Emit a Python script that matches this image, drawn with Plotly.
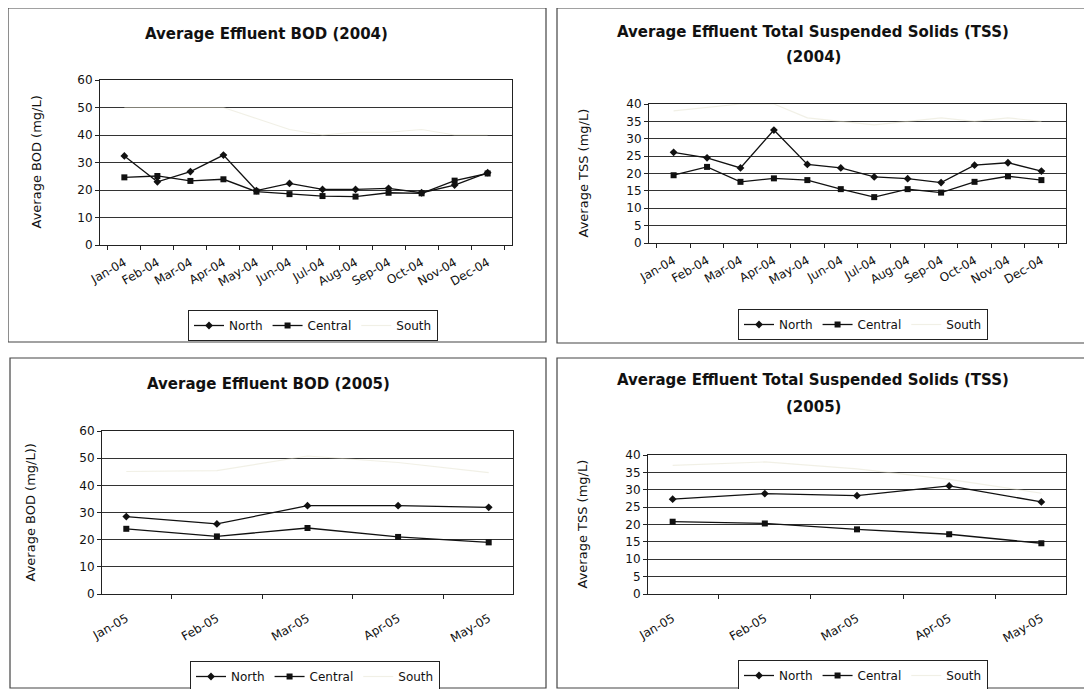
import plotly.graph_objects as go

months_2004 = ["Jan-04", "Feb-04", "Mar-04", "Apr-04", "May-04", "Jun-04",
               "Jul-04", "Aug-04", "Sep-04", "Oct-04", "Nov-04", "Dec-04"]
months_2005 = ["Jan-05", "Feb-05", "Mar-05", "Apr-05", "May-05"]

bod04_north = [32.4, 23.0, 26.7, 32.7, 19.8, 22.4, 20.2, 20.2, 20.6, 19.0, 21.8, 26.3]
bod04_central = [24.6, 25.1, 23.3, 23.9, 19.4, 18.5, 17.8, 17.6, 19.0, 18.8, 23.4, 26.0]
bod04_south = [50, 50, 50, 50, 46, 42, 40, 41, 41, 42, 40, 40]

tss04_north = [26.1, 24.5, 21.6, 32.5, 22.6, 21.6, 19.0, 18.5, 17.4, 22.4, 23.1, 20.7]
tss04_central = [19.5, 21.9, 17.6, 18.6, 18.1, 15.5, 13.2, 15.5, 14.5, 17.6, 19.2, 18.1]
tss04_south = [38, 39, 40, 40, 36, 35, 34, 35, 36, 35, 36, 35]

bod05_north = [28.5, 25.8, 32.5, 32.5, 31.9]
bod05_central = [24.0, 21.2, 24.3, 21.0, 19.0]
bod05_south = [45.1, 45.4, 50.8, 48.4, 44.7]

tss05_north = [27.3, 28.9, 28.3, 31.1, 26.5]
tss05_central = [20.8, 20.3, 18.6, 17.2, 14.6]
tss05_south = [37, 38, 36, 33, 29]

W, H = 1092, 689
OFF = 8  # page body margin
FONT = "DejaVu Sans, Liberation Sans, Arial, sans-serif"
SOUTH_COLOR = "rgba(225,222,200,0.45)"


def fx(px):
    return (px - OFF) / W


def fy(py):
    return 1 - (py - OFF) / H


panels = [
    dict(cats=months_2004, n=bod04_north, c=bod04_central, s=bod04_south,
         ax="", px=(100, 512), py=(80, 245), yr=60, dt=10, so=5,
         ytitle="Average BOD (mg/L)", title=["Average Effluent BOD (2004)"],
         ty=[34], tx=266, box=(8, 8, 546, 342), leg=(188, 310), ytx=36),
    dict(cats=months_2004, n=tss04_north, c=tss04_central, s=tss04_south,
         ax="2", px=(649, 1066), py=(104, 243), yr=40, dt=5, so=5,
         ytitle="Average TSS (mg/L)",
         title=["Average Effluent Total Suspended Solids (TSS)", "(2004)"],
         ty=[32, 57], tx=813, box=(557, 8, 1088, 343), leg=(738, 309), ytx=583),
    dict(cats=months_2005, n=bod05_north, c=bod05_central, s=bod05_south,
         ax="3", px=(102, 513), py=(431, 594), yr=60, dt=10, so=12,
         ytitle="Average BOD (mg/L))", title=["Average Effluent BOD (2005)"],
         ty=[384], tx=268, box=(10, 358, 546, 688), leg=(190, 661), ytx=30),
    dict(cats=months_2005, n=tss05_north, c=tss05_central, s=tss05_south,
         ax="4", px=(648, 1066), py=(455, 594), yr=40, dt=5, so=12,
         ytitle="Average TSS (mg/L)",
         title=["Average Effluent Total Suspended Solids (TSS)", "(2005)"],
         ty=[380, 407], tx=813, box=(557, 358, 1088, 688), leg=(738, 660), ytx=582),
]

fig = go.Figure()
layout = {}
shapes = []
annotations = []

for i, p in enumerate(panels):
    ax = p["ax"]
    legname = "legend" + ax
    xref = "x" + ax
    yref = "y" + ax
    fig.add_trace(go.Scatter(
        x=p["cats"], y=p["n"], name="North", mode="lines+markers",
        line=dict(color="#111111", width=1.3),
        marker=dict(symbol="diamond", size=6, color="#111111"),
        xaxis=xref, yaxis=yref, legend=legname))
    fig.add_trace(go.Scatter(
        x=p["cats"], y=p["c"], name="Central", mode="lines+markers",
        line=dict(color="#111111", width=1.3),
        marker=dict(symbol="square", size=6, color="#111111"),
        xaxis=xref, yaxis=yref, legend=legname))
    fig.add_trace(go.Scatter(
        x=p["cats"], y=p["s"], name="South", mode="lines",
        line=dict(color=SOUTH_COLOR, width=1.2),
        xaxis=xref, yaxis=yref, legend=legname))

    xk = "xaxis" + ax
    yk = "yaxis" + ax
    layout[xk] = dict(
        domain=[fx(p["px"][0]), fx(p["px"][1])], anchor=yref,
        type="category", tickson="boundaries", ticks="outside", ticklen=4,
        tickcolor="#222", tickangle=-30, showgrid=False,
        ticklabelstandoff=p["so"],
        showline=True, linecolor="#222", linewidth=1, mirror=True,
        tickfont=dict(family=FONT, size=12, color="#111"),
    )
    layout[yk] = dict(
        domain=[fy(p["py"][1]), fy(p["py"][0])], anchor=xref,
        range=[0, p["yr"]], dtick=p["dt"], ticks="outside", ticklen=4,
        tickcolor="#222", showgrid=True, gridcolor="#333", gridwidth=1,
        showline=True, linecolor="#222", linewidth=1, mirror=True,
        zeroline=False,
        tickfont=dict(family=FONT, size=12, color="#111"),
    )
    annotations.append(dict(
        text=p["ytitle"], xref="paper", yref="paper",
        x=fx(p["ytx"]), y=fy((p["py"][0] + p["py"][1]) / 2),
        xanchor="center", yanchor="middle",
        textangle=-90, showarrow=False,
        font=dict(family=FONT, size=13, color="#111")))
    for t, ty in zip(p["title"], p["ty"]):
        annotations.append(dict(
            text="<b>" + t + "</b>", xref="paper", yref="paper",
            x=fx(p["tx"]), y=fy(ty), xanchor="center", yanchor="middle",
            showarrow=False,
            font=dict(family=FONT, size=15, color="#111")))
    b = p["box"]
    shapes.append(dict(type="rect", xref="paper", yref="paper",
                       x0=fx(b[0]), x1=fx(b[2]), y0=fy(b[3]), y1=fy(b[1]),
                       line=dict(color="#444", width=1.2)))
    layout[legname] = dict(
        x=fx(p["leg"][0]), y=fy(p["leg"][1]), xanchor="left", yanchor="top",
        orientation="h", bordercolor="#222", borderwidth=1, bgcolor="white",
        font=dict(family=FONT, size=12, color="#111"), itemwidth=30,
        tracegroupgap=0)

fig.update_layout(
    width=W, height=H,
    margin=dict(l=0, r=0, t=0, b=0, pad=0, autoexpand=False),
    paper_bgcolor="white", plot_bgcolor="white",
    shapes=shapes, annotations=annotations, **layout)

fig.write_html("out.html")
